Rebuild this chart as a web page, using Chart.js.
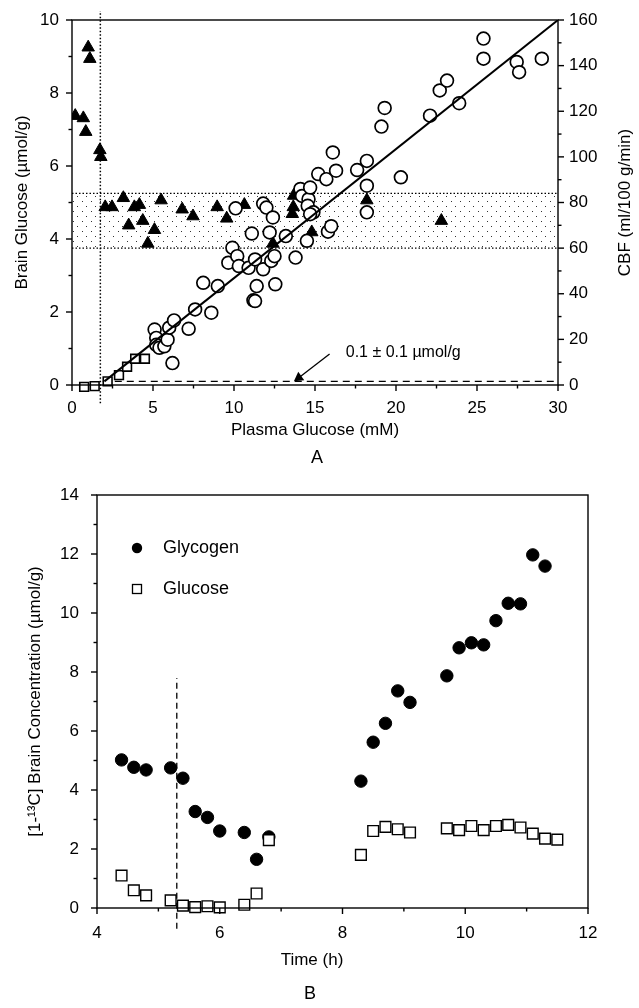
<!DOCTYPE html>
<html>
<head>
<meta charset="utf-8">
<script src="https://cdn.jsdelivr.net/npm/chart.js@4.4.0/dist/chart.umd.min.js"></script>
<style>
  html, body { margin: 0; padding: 0; background: #fff; }
  body { width: 639px; height: 1008px; position: relative; overflow: hidden; font-family: "Liberation Sans", Arial, sans-serif; }
  canvas { position: absolute; left: 0; }
  #chartA { top: 0; }
  #chartB { top: 470px; }
  .panel { position: absolute; font-size: 18px; color: #000; transform: translate(-50%, -50%); }
</style>
</head>
<body>
<canvas id="chartA" width="639" height="470"></canvas>
<canvas id="chartB" width="639" height="538"></canvas>
<div class="panel" style="left:317px;top:457px">A</div>
<div class="panel" style="left:310px;top:993px">B</div>
<script>
// ---- panel A: brain glucose / CBF vs plasma glucose ----
const circlePlasma = [5.1, 5.2, 5.2, 5.4, 5.7, 5.9, 6.0, 6.3, 6.2, 7.2, 7.6, 8.1, 8.6, 9.0, 9.65, 9.9, 10.2, 10.3, 10.1, 10.9,
  11.1, 11.3, 11.4, 11.2, 11.3, 11.8, 11.8, 12.0, 12.2, 12.3, 12.5, 12.55, 12.4, 13.2, 13.8, 14.5, 14.1, 14.2, 14.6, 14.55,
  14.7, 14.9, 14.7, 15.2, 15.7, 15.8, 16.0, 16.1, 16.3, 17.6, 18.2, 18.2, 18.2, 19.1, 19.3, 20.3, 22.1, 22.7, 23.15, 23.9,
  25.4, 25.4, 27.45, 27.6, 29.0];
const circleBrain = [1.52, 1.29, 1.1, 1.02, 1.06, 1.24, 1.57, 1.77, 0.6, 1.54, 2.07, 2.8, 1.98, 2.71, 3.35, 3.76, 3.53, 3.26, 4.84, 3.21,
  4.15, 3.44, 2.71, 2.32, 2.3, 3.17, 4.97, 4.86, 4.18, 3.4, 3.53, 2.76, 4.59, 4.08, 3.49, 3.95, 5.37, 5.18, 5.09, 4.91,
  5.41, 4.73, 4.68, 5.78, 5.64, 4.2, 4.35, 6.37, 5.87, 5.89, 6.14, 5.46, 4.73, 7.08, 7.59, 5.69, 7.38, 8.07, 8.34, 7.72,
  9.49, 8.94, 8.85, 8.57, 8.94];
const squarePlasma = [0.75, 1.4, 2.2, 2.9, 3.4, 3.9, 4.5];
const squareBrain = [-0.05, -0.03, 0.1, 0.27, 0.5, 0.72, 0.72];
const cbfPlasma = [0.2, 0.7, 0.85, 1.0, 1.1, 1.72, 1.78, 2.05, 2.47, 3.17, 3.85, 4.16, 5.5, 6.8, 7.47, 8.96, 9.55, 10.64,
  13.68, 13.66, 3.5, 4.37, 5.09, 4.68, 14.8, 12.4, 18.2, 22.8, 13.6];
const cbfValues = [118, 117, 111, 148, 143, 103, 100, 78, 78, 82, 78, 79, 81, 77, 74, 78, 73, 79,
  83, 78, 70, 72, 68, 62, 67, 62, 81, 72, 75];
const fitPlasma = [2.0, 30];
const fitBrain = [0.1, 10];
const cbfNormalRange = [60, 84];
const thresholdPlasma = 1.75;
const thresholdSpan = [-0.5, 10.25];
const residualLevel = 0.1;
const residualPlasma = [1.9, 29.8];
const arrowPlasma = [15.9, 14.0];
const arrowBrain = [0.85, 0.2];
const residualLabel = '0.1 \u00b1 0.1 \u00b5mol/g';
const residualLabelAt = [16.9, 0.88];
const plasmaTicks = [0, 2.5, 5, 7.5, 10, 12.5, 15, 17.5, 20, 22.5, 25, 27.5, 30];
const brainTicks = [0, 1, 2, 3, 4, 5, 6, 7, 8, 9, 10];
const cbfTicks = [0, 10, 20, 30, 40, 50, 60, 70, 80, 90, 100, 110, 120, 130, 140, 150, 160];

// ---- panel B: time course ----
const glycogenTime = [4.4, 4.6, 4.8, 5.2, 5.4, 5.6, 5.8, 6.0, 6.4, 6.6, 6.8, 8.3, 8.5, 8.7, 8.9, 9.1, 9.7, 9.9, 10.1, 10.3, 10.5, 10.7, 10.9, 11.1, 11.3];
const glycogenConc = [5.02, 4.77, 4.68, 4.75, 4.4, 3.27, 3.07, 2.61, 2.56, 1.65, 2.41, 4.3, 5.62, 6.26, 7.36, 6.97, 7.87, 8.82, 8.99, 8.92, 9.74, 10.33, 10.31, 11.97, 11.59];
const glucoseTime = [4.4, 4.6, 4.8, 5.2, 5.4, 5.6, 5.8, 6.0, 6.4, 6.6, 6.8, 8.3, 8.5, 8.7, 8.9, 9.1, 9.7, 9.9, 10.1, 10.3, 10.5, 10.7, 10.9, 11.1, 11.3, 11.5];
const glucoseConc = [1.1, 0.6, 0.43, 0.26, 0.08, 0.03, 0.06, 0.02, 0.11, 0.49, 2.3, 1.8, 2.61, 2.75, 2.67, 2.56, 2.7, 2.64, 2.78, 2.64, 2.78, 2.82, 2.73, 2.52, 2.35, 2.32];
const infusionTime = 5.3;
const infusionSpan = [-0.7, 7.8];
const timeTicks = [4, 5, 6, 7, 8, 9, 10, 11, 12];
const concTicks = [0, 1, 2, 3, 4, 5, 6, 7, 8, 9, 10, 11, 12, 13, 14];

const FONT = '"Liberation Sans", Arial, sans-serif';
const xy = (xs, ys) => xs.map((x, i) => ({ x: x, y: ys[i] }));
const setTicks = (vals) => (scale) => { scale.ticks = vals.map(v => ({ value: v })); };
const everyOther = (step) => (v) => (Math.abs(v / step - Math.round(v / step)) < 1e-6 ? String(v) : '');

// frame round the plot area + major/minor tick marks
const frameAndTicks = {
  id: 'frameAndTicks',
  afterDatasetsDraw(chart) {
    const ctx = chart.ctx, a = chart.chartArea;
    ctx.save();
    ctx.strokeStyle = '#000';
    ctx.lineWidth = 1.4;
    ctx.strokeRect(a.left, a.top, a.right - a.left, a.bottom - a.top);
    Object.values(chart.scales).forEach(s => {
      s.ticks.forEach(t => {
        const len = t.label ? 6 : 3.5;
        const p = s.getPixelForValue(t.value);
        ctx.beginPath();
        if (s.position === 'bottom') { ctx.moveTo(p, a.bottom); ctx.lineTo(p, a.bottom + len); }
        else if (s.position === 'left') { ctx.moveTo(a.left, p); ctx.lineTo(a.left - len, p); }
        else { ctx.moveTo(a.right, p); ctx.lineTo(a.right + len, p); }
        ctx.stroke();
      });
    });
    ctx.restore();
  }
};

// ---------------- chart A ----------------
const ctxA = document.getElementById('chartA').getContext('2d');
const tile = document.createElement('canvas');
tile.width = 9; tile.height = 10;
const tg = tile.getContext('2d');
tg.fillStyle = '#333';
tg.fillRect(1, 1, 1, 1);
tg.fillRect(5, 6, 1, 1);
const stipple = ctxA.createPattern(tile, 'repeat');

const textA = {
  id: 'textA',
  afterDatasetsDraw(chart) {
    const ctx = chart.ctx, a = chart.chartArea;
    ctx.save();
    ctx.fillStyle = '#000';
    ctx.font = '16px ' + FONT;
    ctx.textBaseline = 'middle';
    ctx.fillText(residualLabel, chart.scales.x.getPixelForValue(residualLabelAt[0]), chart.scales.y.getPixelForValue(residualLabelAt[1]));
    // right axis title reads bottom to top
    ctx.font = '17px ' + FONT;
    ctx.textAlign = 'center';
    ctx.translate(625, (a.top + a.bottom) / 2);
    ctx.rotate(-Math.PI / 2);
    ctx.fillText('CBF (ml/100 g/min)', 0, 0);
    ctx.restore();
  }
};

new Chart(ctxA, {
  type: 'scatter',
  data: {
    datasets: [
      { type: 'line', label: 'fit', data: xy(fitPlasma, fitBrain), borderColor: '#000', borderWidth: 2, pointRadius: 0, yAxisID: 'y' },
      { label: 'Brain glucose', data: xy(circlePlasma, circleBrain), pointStyle: 'circle', pointRadius: 6.4,
        pointBackgroundColor: '#fff', pointBorderColor: '#000', pointBorderWidth: 1.7, yAxisID: 'y' },
      { label: 'Brain glucose (low)', data: xy(squarePlasma, squareBrain), pointStyle: 'rect', pointRadius: 6.2,
        pointBackgroundColor: '#fff', pointBorderColor: '#000', pointBorderWidth: 1.6, yAxisID: 'y', clip: false },
      { label: 'CBF', data: xy(cbfPlasma, cbfValues), pointStyle: 'triangle', pointRadius: 7.2,
        pointBackgroundColor: '#000', pointBorderColor: '#000', pointBorderWidth: 1, yAxisID: 'y1' },
      { type: 'line', label: 'arrow', data: xy(arrowPlasma, arrowBrain), borderColor: '#000', borderWidth: 1.3,
        pointRadius: [0, 6], pointStyle: 'triangle', pointRotation: [0, 235], pointBackgroundColor: '#000', pointBorderWidth: 0, yAxisID: 'y' },
      { type: 'line', label: 'residual', data: xy(residualPlasma, [residualLevel, residualLevel]), borderColor: '#000',
        borderWidth: 1.2, borderDash: [7, 5], pointRadius: 0, yAxisID: 'y' },
      { type: 'line', label: 'threshold', data: xy([thresholdPlasma, thresholdPlasma], thresholdSpan), borderColor: '#000',
        borderWidth: 1.5, borderDash: [1.5, 2], pointRadius: 0, yAxisID: 'y', clip: false },
      { type: 'line', label: 'CBF normal top', data: xy([0, 30], [cbfNormalRange[1], cbfNormalRange[1]]), borderColor: '#000',
        borderWidth: 1.3, borderDash: [1.5, 2], pointRadius: 0, yAxisID: 'y1', fill: { value: cbfNormalRange[0] }, backgroundColor: stipple },
      { type: 'line', label: 'CBF normal bottom', data: xy([0, 30], [cbfNormalRange[0], cbfNormalRange[0]]), borderColor: '#000',
        borderWidth: 1.3, borderDash: [1.5, 2], pointRadius: 0, yAxisID: 'y1' }
    ]
  },
  options: {
    responsive: false,
    animation: false,
    events: [],
    layout: { padding: { top: 20, left: 0, right: 0, bottom: 0 } },
    plugins: { legend: { display: false }, tooltip: { enabled: false } },
    scales: {
      x: {
        type: 'linear', position: 'bottom', min: 0, max: 30,
        afterBuildTicks: setTicks(plasmaTicks),
        afterFit: (s) => { s.height = 85; },
        grid: { display: false, tickLength: 6 },
        border: { display: false },
        ticks: { autoSkip: false, maxRotation: 0, padding: 7, color: '#000', font: { family: FONT, size: 17 }, callback: everyOther(5) },
        title: { display: true, text: 'Plasma Glucose (mM)', color: '#000', font: { family: FONT, size: 17 }, padding: { top: 0, bottom: 29 } }
      },
      y: {
        type: 'linear', position: 'left', min: 0, max: 10,
        afterBuildTicks: setTicks(brainTicks),
        afterFit: (s) => { s.width = 72; },
        grid: { display: false, tickLength: 6 },
        border: { display: false },
        ticks: { autoSkip: false, padding: 7, color: '#000', font: { family: FONT, size: 17 }, callback: everyOther(2) },
        title: { display: true, text: 'Brain Glucose (\u00b5mol/g)', color: '#000', font: { family: FONT, size: 17 }, padding: { top: 12, bottom: 0 } }
      },
      y1: {
        type: 'linear', position: 'right', min: 0, max: 160,
        afterBuildTicks: setTicks(cbfTicks),
        afterFit: (s) => { s.width = 81; },
        grid: { display: false, tickLength: 6 },
        border: { display: false },
        ticks: { autoSkip: false, padding: 5, color: '#000', font: { family: FONT, size: 17 }, callback: everyOther(20) }
      }
    }
  },
  plugins: [frameAndTicks, textA]
});

// ---------------- chart B ----------------
const legendAndTitle = {
  id: 'legendAndTitle',
  afterDatasetsDraw(chart) {
    const ctx = chart.ctx, a = chart.chartArea;
    ctx.save();
    ctx.fillStyle = '#000';
    ctx.strokeStyle = '#000';
    ctx.font = '18px ' + FONT;
    ctx.textBaseline = 'middle';
    const mx = a.left + 40, tx = a.left + 66;
    // Glycogen (filled circle)
    ctx.beginPath();
    ctx.arc(mx, a.top + 53, 5.2, 0, Math.PI * 2);
    ctx.fill();
    ctx.fillText(chart.data.datasets[1].label, tx, a.top + 53);
    // Glucose (open square)
    ctx.lineWidth = 1.3;
    ctx.strokeRect(mx - 4.5, a.top + 94 - 4.5, 9, 9);
    ctx.fillText(chart.data.datasets[0].label, tx, a.top + 94);
    // x axis title
    ctx.font = '17px ' + FONT;
    ctx.textAlign = 'center';
    ctx.fillText('Time (h)', 312, 490);
    ctx.restore();
  }
};

new Chart(document.getElementById('chartB').getContext('2d'), {
  type: 'scatter',
  data: {
    datasets: [
      { label: 'Glucose', data: xy(glucoseTime, glucoseConc), pointStyle: 'rect', pointRadius: 7.6,
        pointBackgroundColor: '#fff', pointBorderColor: '#000', pointBorderWidth: 1.4, clip: false },
      { label: 'Glycogen', data: xy(glycogenTime, glycogenConc), pointStyle: 'circle', pointRadius: 6.2,
        pointBackgroundColor: '#000', pointBorderColor: '#000', pointBorderWidth: 1 },
      { type: 'line', label: 'infusion', data: xy([infusionTime, infusionTime], infusionSpan), borderColor: '#000',
        borderWidth: 1.3, borderDash: [6, 4], pointRadius: 0, clip: false }
    ]
  },
  options: {
    responsive: false,
    animation: false,
    events: [],
    layout: { padding: { top: 25, left: 0, right: 51, bottom: 0 } },
    plugins: { legend: { display: false }, tooltip: { enabled: false } },
    scales: {
      x: {
        type: 'linear', position: 'bottom', min: 4, max: 12,
        afterBuildTicks: setTicks(timeTicks),
        afterFit: (s) => { s.height = 100; },
        grid: { display: false, tickLength: 6 },
        border: { display: false },
        ticks: { autoSkip: false, maxRotation: 0, padding: 9, color: '#000', font: { family: FONT, size: 17 }, callback: everyOther(2) }
      },
      y: {
        type: 'linear', position: 'left', min: 0, max: 14,
        afterBuildTicks: setTicks(concTicks),
        afterFit: (s) => { s.width = 97; },
        grid: { display: false, tickLength: 6 },
        border: { display: false },
        ticks: { autoSkip: false, padding: 12, color: '#000', font: { family: FONT, size: 17 }, callback: everyOther(2) },
        title: { display: true, text: '[1-\u00b9\u00b3C] Brain Concentration (\u00b5mol/g)', color: '#000', font: { family: FONT, size: 17 }, padding: { top: 25, bottom: 0 } }
      }
    }
  },
  plugins: [frameAndTicks, legendAndTitle]
});
</script>
</body>
</html>
